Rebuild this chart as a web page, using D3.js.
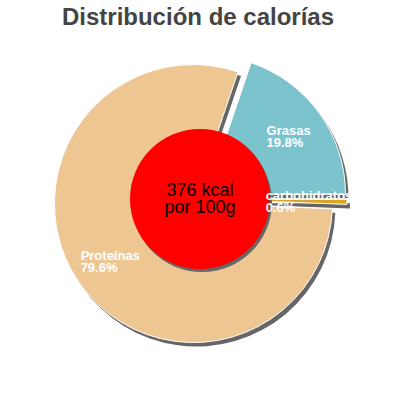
<!DOCTYPE html>
<html>
<head>
<meta charset="utf-8">
<script src="https://cdn.jsdelivr.net/npm/d3@7"></script>
<style>
  body { margin: 0; background: #fff; }
  svg { font-family: "Liberation Sans", Arial, sans-serif; }
</style>
</head>
<body>
<svg id="drawing_region"></svg>
<script>
// chart data, in drawing order clockwise from 3 o'clock
const labels = ["carbohidratos", "Proteínas", "Grasas"];
const values = [0.6, 79.6, 19.8];
const colors = ["#daa520", "#edc692", "#7cc4cd"];
const centerLines = ["376 kcal", "por 100g"];
const title = "Distribución de calorías";

const data = labels.map((l, i) => ({ label: l, value: values[i], color: colors[i] }));

const config = {
    width: 400,
    height: 400,
    cx: 200, cy: 199,
    radius: 139,
    hole: 70,
    offset: 8
};

const svg = d3.select('#drawing_region')
    .attr('width', config.width)
    .attr('height', config.height);

svg.append('text')
    .attr('x', 198)
    .attr('y', 25)
    .attr('text-anchor', 'middle')
    .attr('font-size', 24)
    .attr('font-weight', 'bold')
    .attr('fill', '#444')
    .text(title);

const pie = d3.pie()
    .sort(null)
    .value(d => d.value)
    .startAngle(Math.PI / 2)
    .endAngle(Math.PI / 2 + 2 * Math.PI);

const arcs = pie(data);

const arc = d3.arc().innerRadius(0).outerRadius(config.radius);
const labelR = 101;
const labelArc = d3.arc().innerRadius(labelR).outerRadius(labelR);

// every slice is pulled out a little from the centre
function shift(d) {
    const a = (d.startAngle + d.endAngle) / 2;
    return [Math.sin(a) * config.offset, -Math.cos(a) * config.offset];
}

const chart = svg.append('g')
    .attr('transform', `translate(${config.cx}, ${config.cy})`);

// shadows
chart.append('g')
    .attr('transform', 'translate(3, 4)')
    .selectAll('path')
    .data(arcs)
    .enter()
    .append('path')
    .attr('d', arc)
    .attr('transform', d => `translate(${shift(d)})`)
    .attr('fill', '#666');

chart.append('g')
    .selectAll('path')
    .data(arcs)
    .enter()
    .append('path')
    .attr('d', arc)
    .attr('transform', d => `translate(${shift(d)})`)
    .attr('fill', d => d.data.color)
    .attr('stroke', '#fff')
    .attr('stroke-width', 1);

// center circle
chart.append('circle')
    .attr('cx', 2)
    .attr('cy', 3)
    .attr('r', config.hole)
    .attr('fill', '#666');
chart.append('circle')
    .attr('r', config.hole)
    .attr('fill', '#ff0000');

chart.append('text')
    .attr('y', -3)
    .attr('text-anchor', 'middle')
    .attr('font-size', 18)
    .attr('fill', '#000')
    .selectAll('tspan')
    .data(centerLines)
    .enter()
    .append('tspan')
    .attr('x', 0)
    .attr('dy', (d, i) => i === 0 ? 0 : 17)
    .text(d => d);

// slice labels
const labelTexts = chart.append('g')
    .selectAll('text')
    .data(arcs)
    .enter()
    .append('text')
    .attr('font-size', 13)
    .attr('font-weight', 'bold')
    .attr('fill', '#fff');

labelTexts.each(function(d) {
    const t = d3.select(this);
    t.append('tspan').text(d.data.label);
    t.append('tspan').text(d.data.value.toFixed(1) + '%');
    const spans = t.selectAll('tspan').nodes();
    const bw = d3.max(spans, s => s.getComputedTextLength());
    const c = labelArc.centroid(d);
    const s = shift(d);
    const x = c[0] + s[0] - bw / 2;
    const y = c[1] + s[1];
    t.selectAll('tspan')
        .attr('x', x)
        .attr('y', (e, i) => y - 1 + i * 12);
});
</script>
</body>
</html>
